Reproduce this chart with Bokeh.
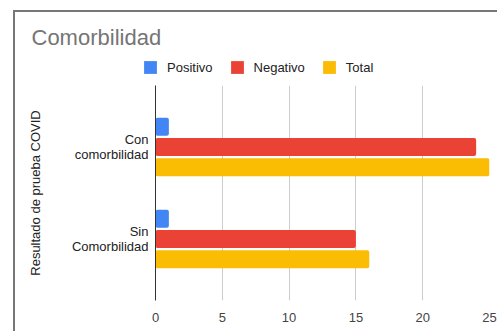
from bokeh.plotting import figure
from bokeh.layouts import column
from bokeh.models import (ColumnDataSource, FactorRange, Range1d, Legend, LegendItem,
                          SingleIntervalTicker)
from bokeh.transform import dodge
from bokeh.embed import file_html
from bokeh.resources import INLINE

categories = ["Con\ncomorbilidad", "Sin\nComorbilidad"]
positivo = [1, 1]
negativo = [24, 15]
total = [25, 16]
series_names = ["Positivo", "Negativo", "Total"]
colors = ["#4285F4", "#EA4335", "#FBBC04"]

source = ColumnDataSource(dict(cat=categories, Positivo=positivo, Negativo=negativo, Total=total))

FONT = "Liberation Sans"

# ---- header: title + legend ----
head = figure(width=482, height=73, output_backend="svg", toolbar_location=None,
              x_axis_type=None, y_axis_type=None, x_range=Range1d(0, 1), y_range=Range1d(0, 1),
              min_border_left=0, min_border_right=0, min_border_top=42, min_border_bottom=0,
              title="Comorbilidad")
head.frame_align = False
head.outline_line_color = None
head.grid.visible = False
head.title.text_font = FONT
head.title.text_font_size = "22px"
head.title.text_font_style = "normal"
head.title.text_color = "#757575"
head.title.offset = 16

# zero-size proxy glyphs that only carry the legend swatch styles
legend_renderers = []
for col in colors:
    legend_renderers.append(head.hbar(y=[0], right=[0], left=0, height=0, fill_color=col,
                                      line_color=None))

legend = Legend(items=[LegendItem(label=n, renderers=[r]) for n, r in zip(series_names, legend_renderers)],
                orientation="horizontal", location=(127, 10))
legend.border_line_color = None
legend.background_fill_alpha = 0
legend.padding = 0
legend.margin = 0
legend.spacing = 16
legend.label_standoff = 9
legend.glyph_width = 16
legend.glyph_height = 16
legend.label_height = 16
legend.label_text_font = FONT
legend.label_text_font_size = "13px"
legend.label_text_color = "#222222"
head.add_layout(legend, "center")

# ---- main chart ----
p = figure(width=482, height=246, output_backend="svg", toolbar_location=None,
           y_range=FactorRange(factors=categories[::-1], range_padding=0.168),
           x_range=Range1d(0, 25),
           min_border_left=140, min_border_right=8, min_border_top=0, min_border_bottom=31,
           title=None)
p.frame_align = False

offsets = [0.22, 0.0, -0.22]
for name, col, off in zip(series_names, colors, offsets):
    p.hbar(y=dodge("cat", off, range=p.y_range), right=name, left=0, height=0.196,
           source=source, fill_color=col, line_color=None, border_radius=2)

p.outline_line_color = None

p.xaxis.ticker = SingleIntervalTicker(interval=5)
p.xaxis.axis_line_color = None
p.xaxis.major_tick_line_color = None
p.xaxis.minor_tick_line_color = None
p.xaxis.major_label_text_font = FONT
p.xaxis.major_label_text_font_size = "13px"
p.xaxis.major_label_text_color = "#444444"
p.xaxis.major_label_standoff = 6

p.yaxis.axis_line_color = "#333333"
p.yaxis.major_tick_line_color = None
p.yaxis.minor_tick_line_color = None
p.yaxis.major_label_text_font = FONT
p.yaxis.major_label_text_font_size = "13px"
p.yaxis.major_label_text_color = "#222222"
p.yaxis.major_label_text_align = "right"
p.yaxis.major_label_text_line_height = 0.95
p.yaxis.major_label_standoff = 1
p.yaxis.axis_label = "Resultado de prueba COVID"
p.yaxis.axis_label_text_font = FONT
p.yaxis.axis_label_text_font_size = "13px"
p.yaxis.axis_label_text_font_style = "normal"
p.yaxis.axis_label_text_color = "#222222"
p.yaxis.axis_label_standoff = 26

p.xgrid.grid_line_color = "#CCCCCC"
p.ygrid.grid_line_color = None

layout = column(head, p, spacing=0)
layout.styles = {"border-top": "2px solid #777777", "border-left": "2px solid #777777",
                 "margin-top": "10px", "margin-left": "13px"}

open("out.html", "w").write(file_html(layout, INLINE))
